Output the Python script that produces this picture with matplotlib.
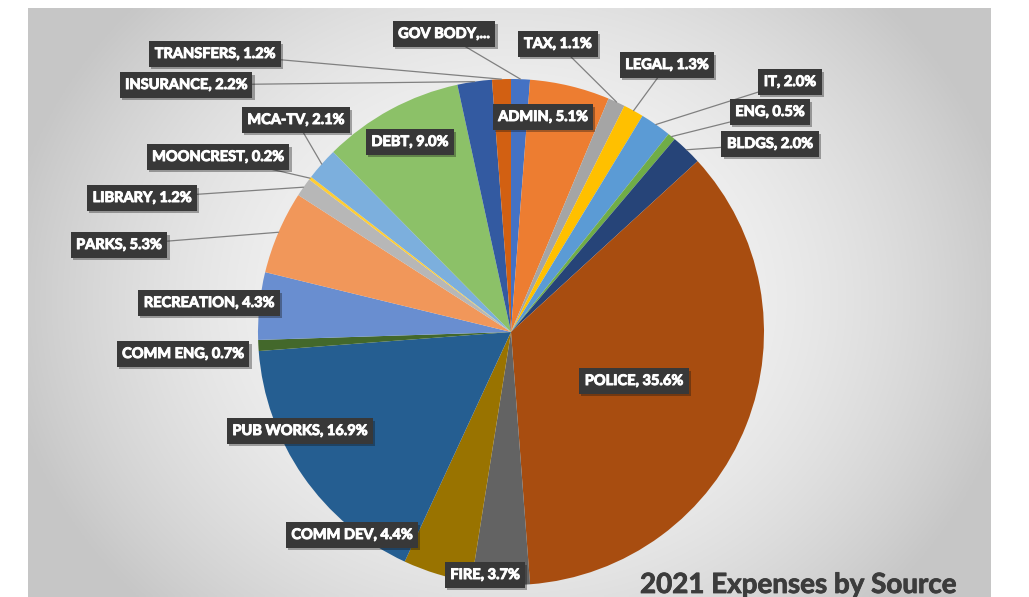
import matplotlib
matplotlib.use('Agg')
import matplotlib.pyplot as plt
import matplotlib.patheffects as pe
import numpy as np

# ---- data ----
categories = ['GOV BODY', 'ADMIN', 'TAX', 'LEGAL', 'IT', 'ENG', 'BLDGS', 'POLICE',
              'FIRE', 'COMM DEV', 'PUB WORKS', 'COMM ENG', 'RECREATION', 'PARKS',
              'LIBRARY', 'MOONCREST', 'MCA-TV', 'DEBT', 'INSURANCE', 'TRANSFERS']
shares = [1.2, 5.1, 1.1, 1.3, 2.0, 0.5, 2.0, 35.6, 3.7, 4.4, 16.9, 0.7, 4.3, 5.3,
          1.2, 0.2, 2.1, 9.0, 2.2, 1.2]
colors = ['#4472C4', '#ED7D31', '#A5A5A5', '#FFC000', '#5B9BD5', '#70AD47', '#264478',
          '#A84D10', '#636363', '#997300', '#255E91', '#43682B', '#698ED0', '#F1975A',
          '#B7B7B7', '#FFCD33', '#7CAFDD', '#8CC168', '#335AA1', '#D26012']
title = '2021 Expenses by Source'

# label box centres (pixels) and whether a leader line is drawn
label_px = {
    'GOV BODY': (444, 34), 'ADMIN': (543, 117), 'TAX': (558, 44), 'LEGAL': (667, 65),
    'IT': (790, 82), 'ENG': (770, 112), 'BLDGS': (770, 144), 'POLICE': (634, 381),
    'FIRE': (485, 575), 'COMM DEV': (352, 535), 'PUB WORKS': (300, 431),
    'COMM ENG': (183, 354), 'RECREATION': (209, 303), 'PARKS': (119, 245),
    'LIBRARY': (142, 198), 'MOONCREST': (218, 157), 'MCA-TV': (296, 120),
    'DEBT': (410, 142), 'INSURANCE': (186, 85), 'TRANSFERS': (215, 54),
}
leaders = {'GOV BODY', 'TAX', 'LEGAL', 'IT', 'ENG', 'BLDGS', 'TRANSFERS', 'INSURANCE',
           'MCA-TV', 'MOONCREST', 'LIBRARY', 'PARKS'}

W, H = 1029, 597
CX, CY, R = 511, 332, 253

fig = plt.figure(figsize=(W / 100, H / 100), dpi=100)
fig.patch.set_facecolor('white')
ax = fig.add_axes([0, 0, 1, 1])


def to_data(px, py):
    return (px - CX) / R, (CY - py) / R


# background gradient panel
bx0, bx1, by0, by1 = 28, 991, 8, 597
xs = np.linspace(bx0, bx1, 300)
ys = np.linspace(by0, by1, 200)
X, Y = np.meshgrid(xs, ys)
d = np.sqrt(((X - 511) / 490) ** 2 + ((Y - 300) / 420) ** 2)
val = np.clip(0.975 - 0.18 * d ** 2, 0.78, 1)
img = np.dstack([val, val, val])
ex0, ey0 = to_data(bx0, by1)
ex1, ey1 = to_data(bx1, by0)
ax.imshow(img, extent=(ex0, ex1, ey0, ey1), origin='upper', zorder=0,
          interpolation='bilinear', aspect='auto')

wedges, _ = ax.pie(shares, colors=colors, startangle=90, counterclock=False,
                   radius=1, center=(0, 0), wedgeprops=dict(linewidth=0))
for w in wedges:
    w.set_zorder(2)

text_fx = [pe.withStroke(linewidth=0.7, foreground='white')]
for cat, v, w in zip(categories, shares, wedges):
    text = 'GOV BODY,...' if cat == 'GOV BODY' else f'{cat}, {v:.1f}%'
    lx, ly = to_data(*label_px[cat])
    bbox = dict(boxstyle='square,pad=0.38', fc='#383838', ec='none',
                path_effects=[pe.SimplePatchShadow(offset=(1.5, -1.5), alpha=0.35),
                              pe.Normal()])
    kw = dict(ha='center', va='center', color='white', fontsize=10.5,
              fontweight='bold', family='Lato', bbox=bbox, zorder=5)
    if cat in leaders:
        ang = np.deg2rad((w.theta1 + w.theta2) / 2)
        t = ax.annotate(text, xy=(np.cos(ang), np.sin(ang)), xytext=(lx, ly),
                        arrowprops=dict(arrowstyle='-', color='#808080', lw=0.9,
                                        shrinkA=0, shrinkB=0), **kw)
    else:
        t = ax.text(lx, ly, text, **kw)
    t.set_path_effects(text_fx)

tx, ty = to_data(640, 593)
ax.text(tx, ty, title, ha='left', va='baseline', fontsize=20, fontweight='bold',
        family='Lato', color='#3c3c3c', zorder=6,
        path_effects=[pe.withStroke(linewidth=0.6, foreground='#3c3c3c')])

x0, _ = to_data(0, 0)
x1, _ = to_data(W, 0)
_, y0 = to_data(0, H)
_, y1 = to_data(0, 0)
ax.set_xlim(x0, x1)
ax.set_ylim(y0, y1)
ax.set_aspect('auto')
ax.axis('off')

fig.savefig('out.png', dpi=100, facecolor='white')
